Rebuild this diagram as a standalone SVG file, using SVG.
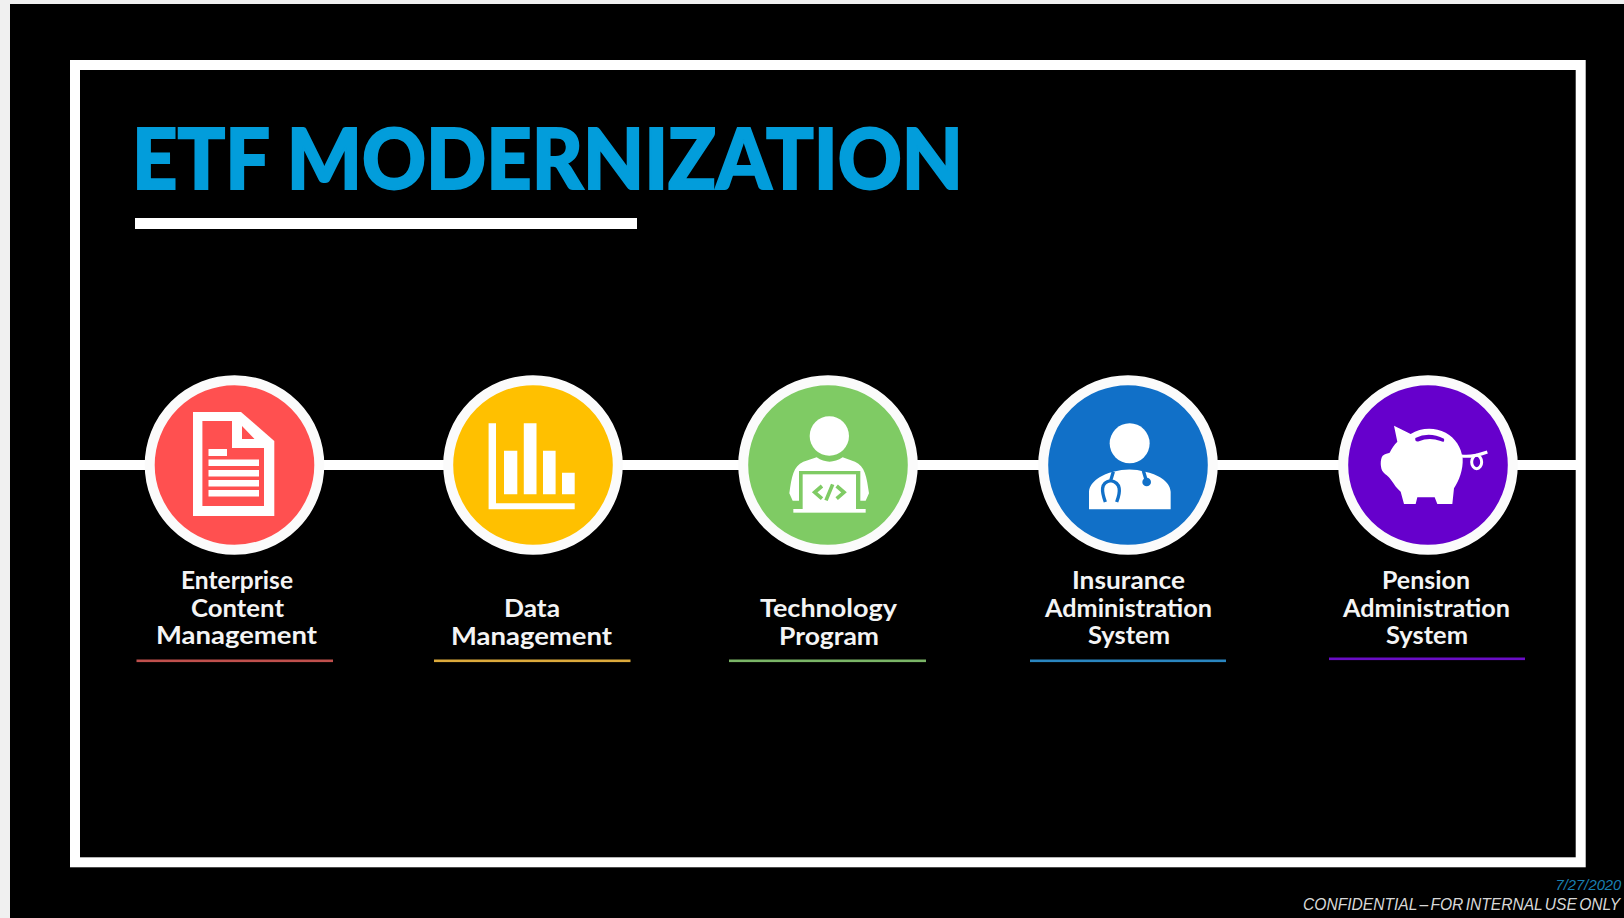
<svg xmlns="http://www.w3.org/2000/svg" width="1624" height="918" viewBox="0 0 1624 918">
<style>
.lb{font-family:"Lato","Liberation Sans",sans-serif;font-weight:700;font-size:25px;fill:#f4f4f4}
.wh{fill:#fff}
.ring{stroke:#fbfbfb;stroke-width:10}
.conn{stroke:#fff;stroke-width:10;fill:none}
.ft{font-family:"Liberation Sans",Arial,sans-serif;font-style:italic;font-size:14.8px}
</style>
<rect width="1624" height="918" fill="#f0f0f0"/>
<rect x="10" y="4" width="1614" height="914" fill="#000"/>
<rect id="frame" x="75" y="65" width="1505.7" height="797.3" fill="none" stroke="#fff" stroke-width="10"/>
<g id="title">
<text x="132" y="189" font-family="Lato,'Liberation Sans',sans-serif" font-weight="900" font-size="84" fill="#029ddb" stroke="#029ddb" stroke-width="2" textLength="831" lengthAdjust="spacingAndGlyphs">ETF MODERNIZATION</text>
<rect x="135" y="218" width="502" height="11" fill="#fff"/>
</g>
<g id="connectors">
<line class="conn" x1="80" y1="465" x2="145" y2="465"/>
<line class="conn" x1="324" y1="465" x2="444" y2="465"/>
<line class="conn" x1="622" y1="465" x2="739" y2="465"/>
<line class="conn" x1="917" y1="465" x2="1039" y2="465"/>
<line class="conn" x1="1217" y1="465" x2="1339" y2="465"/>
<line class="conn" x1="1517" y1="465" x2="1576" y2="465"/>
</g>
<g id="node-ecm">
<circle class="ring" cx="234.5" cy="465" r="84.8" fill="#ff5050"/>
<path class="wh" d="M193,412H241L274.3,441V516H193Z"/>
<path fill="#ff5050" d="M202.4,421H232V448H264V506H202.4ZM242,426V439H254.5Z"/>
<path class="wh" d="M208.5,449H227V456H208.5ZM208.5,459.5H259V466H208.5ZM208.5,470H259V476.5H208.5ZM208.5,480H259V486.5H208.5ZM208.5,490H259V496.5H208.5Z"/>
<text class="lb" x="181" y="589" textLength="112" lengthAdjust="spacingAndGlyphs">Enterprise</text>
<text class="lb" x="191" y="617" textLength="93" lengthAdjust="spacingAndGlyphs">Content</text>
<text class="lb" x="156" y="644" textLength="161" lengthAdjust="spacingAndGlyphs">Management</text>
<rect x="136.5" y="659.5" width="196.5" height="2.6" fill="#c0504d"/>
</g>
<g id="node-data">
<circle class="ring" cx="533" cy="465" r="84.8" fill="#ffc000"/>
<path class="wh" d="M488.6,423.3H496V503.3H574.7V509.3H488.6ZM504,450.7H517.3V494.3H504ZM523.8,423.3H536.5V494.3H523.8ZM543,450.7H555.6V494.3H543ZM562,472.7H574.7V494.3H562Z"/>
<text class="lb" x="504" y="617" textLength="56" lengthAdjust="spacingAndGlyphs">Data</text>
<text class="lb" x="451" y="645" textLength="161" lengthAdjust="spacingAndGlyphs">Management</text>
<rect x="434" y="659.5" width="196.5" height="2.6" fill="#dcaa3c"/>
</g>
<g id="node-tech">
<circle class="ring" cx="828" cy="465" r="84.8" fill="#7fcb64"/>
<g transform="translate(700,360) scale(.33333)">
<circle class="wh" cx="388" cy="228" r="59"/>
<path class="wh" d="M278,422L268,400C275,350 280,318 310,305L350,292Q388,318 428,292L465,305C495,318 500,350 507,400L497,422Z"/>
<rect x="297" y="333" width="184" height="114" fill="#7fcb64"/>
<rect class="wh" x="308" y="343" width="160" height="104"/>
<rect class="wh" x="280" y="447" width="217" height="11"/>
<path d="M366,378L344,397L366,416M410,378L432,397L410,416M398,373L378,421" fill="none" stroke="#7fcb64" stroke-width="11"/>
</g>
<text class="lb" x="760" y="617" textLength="137" lengthAdjust="spacingAndGlyphs">Technology</text>
<text class="lb" x="779" y="645" textLength="100" lengthAdjust="spacingAndGlyphs">Program</text>
<rect x="729" y="659.5" width="197" height="2.6" fill="#7ab567"/>
</g>
<g id="node-ins">
<circle class="ring" cx="1128" cy="465" r="84.8" fill="#1170c8"/>
<g transform="translate(700,360) scale(.33333)">
<circle class="wh" cx="1289" cy="250" r="60"/>
<path class="wh" d="M1167,448V395C1170,362 1210,342 1240,335Q1289,322 1335,335C1370,342 1410,362 1412,395V448Z"/>
<path d="M1240,335L1232,362C1200,368 1205,395 1216,426M1232,362C1264,368 1262,395 1250,426M1330,332L1340,365" fill="none" stroke="#1170c8" stroke-width="10"/>
<circle cx="1340" cy="366" r="13" fill="#1170c8"/>
</g>
<text class="lb" x="1072" y="589" textLength="113" lengthAdjust="spacingAndGlyphs">Insurance</text>
<text class="lb" x="1045" y="617" textLength="167" lengthAdjust="spacingAndGlyphs">Administration</text>
<text class="lb" x="1088" y="644" textLength="82" lengthAdjust="spacingAndGlyphs">System</text>
<rect x="1030" y="659.5" width="196" height="2.6" fill="#2a86c0"/>
</g>
<g id="node-pen">
<circle class="ring" cx="1428" cy="465" r="84.8" fill="#6600cc"/>
<g transform="translate(1224,360) scale(.33333)">
<path class="wh" d="M510,197L560,222C590,203 630,200 665,218C695,235 712,262 716,295C718,330 705,362 690,385L685,432H640L632,412H580L575,432H540L530,395C518,385 510,372 505,365C495,350 488,347 478,337C468,325 468,298 476,287C483,280 492,280 497,278C503,265 510,255 520,245Z"/>
<path d="M574,234Q615,214 660,236Q663,250 650,243Q615,230 585,244Q572,247 574,234Z" fill="#6600cc"/>
<path d="M712,288C740,292 765,285 790,276" fill="none" stroke="#fff" stroke-width="9"/>
<ellipse cx="758" cy="306" rx="15" ry="20" fill="none" stroke="#fff" stroke-width="9"/>
</g>
<text class="lb" x="1382" y="589" textLength="88" lengthAdjust="spacingAndGlyphs">Pension</text>
<text class="lb" x="1343" y="617" textLength="167" lengthAdjust="spacingAndGlyphs">Administration</text>
<text class="lb" x="1386" y="644" textLength="82" lengthAdjust="spacingAndGlyphs">System</text>
<rect x="1329" y="657.5" width="196" height="2.6" fill="#6a0dc6"/>
</g>
<g id="footer">
<text class="ft" x="1555.5" y="889.5" fill="#1a7fb0">7/27/2020</text>
<text class="ft" x="1303" y="909.5" fill="#d8d8d8" word-spacing="-2" style="font-size:15.6px">CONFIDENTIAL – FOR INTERNAL USE ONLY</text>
</g>
</svg>
